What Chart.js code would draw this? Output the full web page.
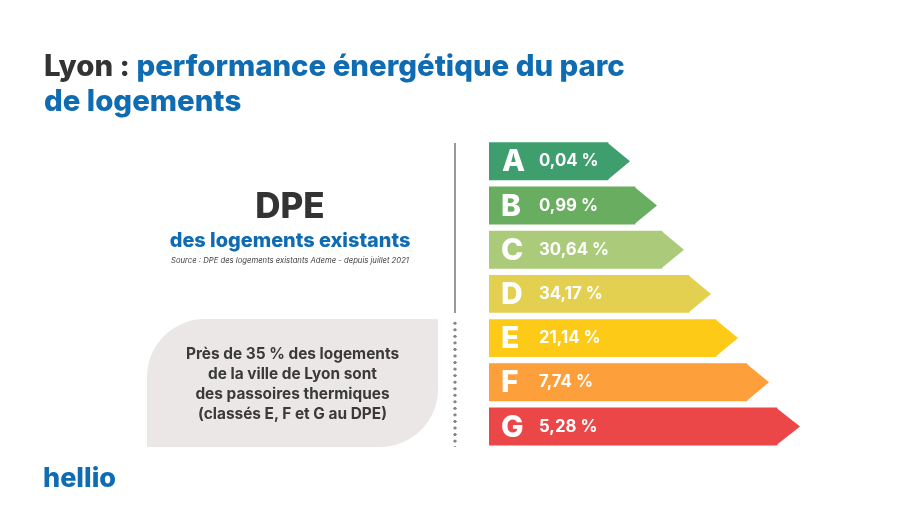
<!DOCTYPE html>
<html lang="fr">
<head>
<meta charset="utf-8">
<title>Lyon : performance énergétique du parc de logements</title>
<script src="https://cdn.jsdelivr.net/npm/chart.js@4"></script>
<style>
  html, body { margin: 0; padding: 0; background: #fff; }
  body { position: relative; width: 920px; height: 517px; overflow: hidden; font-family: Inter, sans-serif; font-weight: 800; }
  #chart-wrap { position: absolute; left: 0; top: 0; width: 920px; height: 517px; }
  .txt { position: absolute; white-space: nowrap; }
  .blue { color: #0f6cb3; }
  .dark { color: #333; }
  #title { left: 44px; top: 48px; font-size: 29.4px; line-height: 35px; }
  #dpe { left: 147px; width: 286px; top: 184px; text-align: center; font-size: 35px; line-height: 42px; }
  #sub { left: 147px; width: 286px; top: 228px; text-align: center; font-size: 19.9px; line-height: 24px; }
  #source { left: 147px; width: 286px; top: 255px; text-align: center; font-size: 7.7px; line-height: 12px; font-style: italic; font-weight: 400; color: #444; }
  #panel { position: absolute; left: 147px; top: 319px; width: 291px; height: 128px; background: #ebe7e6; border-radius: 58px 0 58px 0; }
  #note { left: 147px; width: 291px; top: 344px; text-align: center; font-size: 15.4px; line-height: 19.9px; font-weight: 700; color: #3a3a3a; }
  #rule { position: absolute; left: 454px; top: 143px; width: 2.4px; height: 170px; background: #999; }
  #dots { position: absolute; left: 453px; top: 320px; width: 4px; height: 127px; background: radial-gradient(circle, #858585 1.5px, transparent 1.8px) 0 0 / 4px 6.55px repeat-y; }
  #logo { left: 43px; top: 460px; font-size: 27px; line-height: 36px; }
</style>
</head>
<body>
<div id="panel"></div>
<div id="rule"></div>
<div id="dots"></div>
<div id="chart-wrap"><canvas id="dpeChart" width="920" height="517"></canvas></div>

<div class="txt" id="title"><span class="dark">Lyon : </span><span class="blue">performance énergétique du parc<br>de logements</span></div>
<div class="txt dark" id="dpe">DPE</div>
<div class="txt blue" id="sub">des logements existants</div>
<div class="txt" id="source">Source : DPE des logements existants Ademe - depuis juillet 2021</div>
<div class="txt" id="note">Près de 35 % des logements<br>de la ville de Lyon sont<br>des passoires thermiques<br>(classés E, F et G au DPE)</div>
<div class="txt blue" id="logo">hellio</div>

<script>
// DPE classes and their share of the housing stock (%)
const classes = ['A', 'B', 'C', 'D', 'E', 'F', 'G'];
const shares = ['0,04', '0,99', '30,64', '34,17', '21,14', '7,74', '5,28'];

// Arrow lengths do not follow the shares: each class just gets longer (1 unit = 1 px)
const arrowBody = [119, 146, 173, 200, 227, 258, 288];
const arrowTip = [141, 168, 195, 222, 249, 280, 311];

const classColors = ['#3f9e6e', '#68ad60', '#abcb7a', '#e3d050', '#fdca17', '#fd9f3a', '#eb4748'];

// Draws the arrow points and the white labels on top of the bars
const arrowPlugin = {
  id: 'arrowPlugin',
  afterDatasetsDraw(chart) {
    const ctx = chart.ctx;
    const xScale = chart.scales.x;
    const bars = chart.getDatasetMeta(0).data;

    bars.forEach((bar, i) => {
      const half = bar.height / 2;

      ctx.save();
      ctx.fillStyle = classColors[i];
      ctx.beginPath();
      ctx.moveTo(xScale.getPixelForValue(arrowBody[i]) - 0.5, bar.y - half);
      ctx.lineTo(xScale.getPixelForValue(arrowTip[i]), bar.y);
      ctx.lineTo(xScale.getPixelForValue(arrowBody[i]) - 0.5, bar.y + half);
      ctx.closePath();
      ctx.fill();

      ctx.fillStyle = '#fff';
      ctx.textBaseline = 'middle';
      ctx.textAlign = 'left';
      ctx.font = '800 30px Inter, sans-serif';
      ctx.fillText(classes[i], xScale.getPixelForValue(i === 0 ? 13 : 12), bar.y + 1);
      ctx.font = '700 16.8px Inter, sans-serif';
      ctx.fillText(shares[i] + ' %', xScale.getPixelForValue(50), bar.y);
      ctx.restore();
    });
  }
};

new Chart(document.getElementById('dpeChart').getContext('2d'), {
  type: 'bar',
  data: {
    labels: classes,
    datasets: [{
      data: arrowBody,
      backgroundColor: classColors,
      borderWidth: 0,
      barThickness: 37.2
    }]
  },
  options: {
    indexAxis: 'y',
    responsive: false,
    animation: false,
    layout: { padding: { left: 489, right: 31, top: 139.2, bottom: 68.4 } },
    plugins: { legend: { display: false }, title: { display: false }, tooltip: { enabled: false } },
    scales: {
      x: { display: false, min: 0, max: 400 },
      y: { display: false }
    }
  },
  plugins: [arrowPlugin]
});
</script>
</body>
</html>
